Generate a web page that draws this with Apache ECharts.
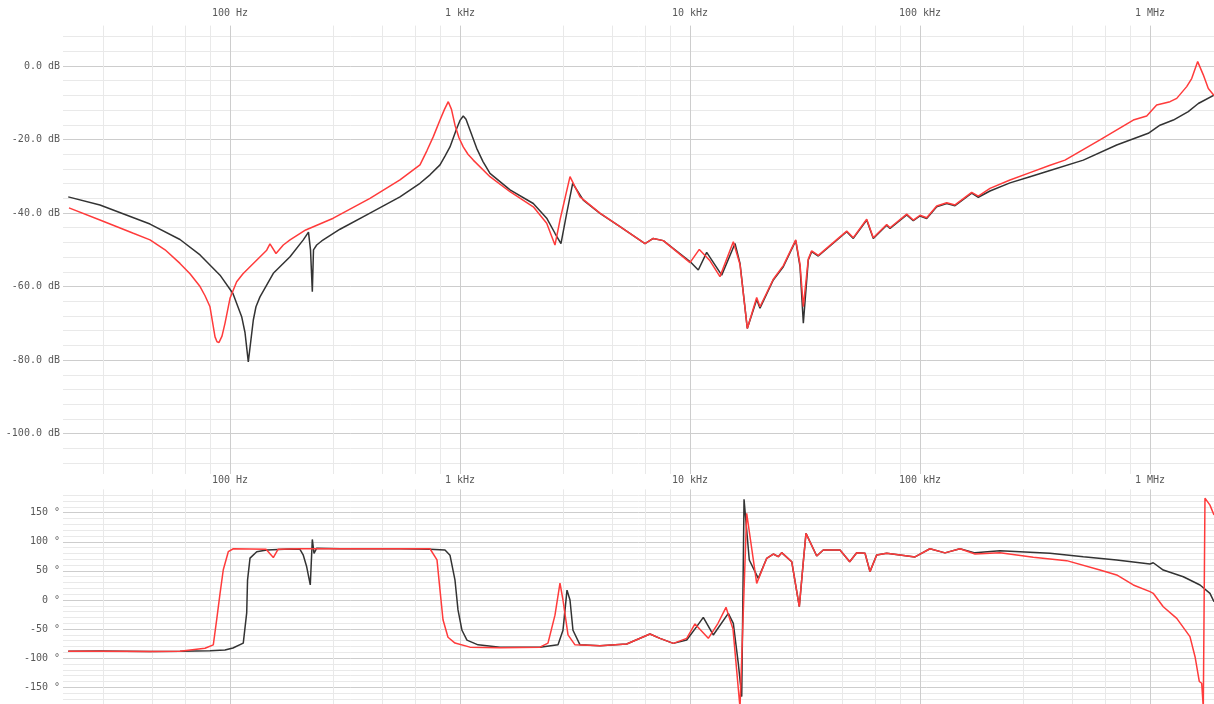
<!DOCTYPE html>
<html><head><meta charset="utf-8">
<script src="https://cdn.jsdelivr.net/npm/echarts@6/dist/echarts.min.js"></script>
<style>html,body{margin:0;padding:0;background:#fff;overflow:hidden}#c{width:1214px;height:704px}</style>
</head><body><div id="c"></div>
<script>
const xTickValues = [100, 1000, 10000, 100000, 1000000];
const xTickNames = ['100 Hz', '1 kHz', '10 kHz', '100 kHz', '1 MHz'];

const magBlackFreq = [19.8, 27.2, 44.9, 60.6, 74.1, 90.5, 103, 112.4, 116.2, 120.1, 126.3, 129.7, 135, 154.3, 182.4, 208.3, 219.4, 223.9, 228, 230.7, 238.2, 250.4, 300.8, 406.1, 548.3, 669.9, 740.5, 818.6, 860.5, 904.6, 967.6, 1000, 1033, 1062, 1105, 1182, 1259, 1350, 1650, 2083, 2382, 2588, 2748, 2910, 3090, 3437, 4062, 4962, 6373, 6924, 7655, 10000, 10866, 11820, 13736, 15691, 16499, 17748, 19498, 20150, 23022, 25450, 28825, 30090, 31100, 32680, 33810, 36130, 48010, 51290, 58660, 62660, 71650, 74070, 87550, 93520, 100000, 106930, 118200, 130650, 142000, 167800, 179300, 201500, 246200, 300800, 367500, 512900, 716400, 983100, 1105000, 1263000, 1467000, 1622000, 1898000];
const magBlackDb = [-35.6, -37.8, -43.0, -47.2, -51.4, -56.9, -61.9, -68.2, -72.5, -80.5, -69.1, -65.5, -62.8, -56.4, -51.9, -47.3, -45.2, -50, -61.4, -50, -48.7, -47.6, -44.4, -40.0, -35.6, -31.9, -29.6, -26.9, -24.5, -22.0, -17.0, -14.8, -13.6, -14.5, -17.4, -22.4, -26.0, -29.2, -33.7, -37.4, -41.4, -45.5, -48.3, -40.1, -31.9, -36.5, -40.1, -43.7, -48.3, -46.9, -47.5, -53.2, -55.5, -50.7, -56.9, -48.3, -53.7, -71.4, -63.5, -65.9, -58.2, -54.6, -47.5, -54.6, -70.0, -52.8, -50.5, -51.7, -45.1, -46.9, -41.9, -46.9, -43.3, -44.2, -40.5, -42.1, -40.8, -41.5, -38.3, -37.4, -38.0, -34.6, -35.7, -34.0, -31.8, -30.1, -28.4, -25.6, -21.5, -18.3, -16.1, -14.7, -12.4, -10.2, -7.9];

const magRedFreq = [19.95, 27.2, 37.98, 44.9, 52.2, 60.6, 67, 74.1, 77.9, 81.85, 86.08, 87.8, 89.6, 92.3, 95.1, 100, 106.9, 113.9, 122.2, 144.4, 149.2, 158.5, 170.5, 182.4, 213.4, 281.3, 406.1, 548.3, 669.9, 718.6, 765.6, 818.6, 856.1, 889.3, 918.3, 951.2, 990, 1033, 1083, 1142, 1350, 1650, 2083, 2382, 2588, 2721, 3008, 3325, 4062, 4962, 6373, 6924, 7655, 10000, 10975, 12220, 13500, 15430, 16499, 17748, 19498, 20150, 23022, 25450, 28825, 30090, 31100, 32680, 33810, 36130, 48010, 51290, 58660, 62660, 71650, 74070, 87550, 93520, 100000, 106930, 118200, 130650, 142000, 167800, 179300, 201500, 246200, 300800, 367500, 426900, 606000, 846000, 967600, 1069000, 1222000, 1307000, 1444000, 1518000, 1612000, 1705000, 1793000, 1898000];
const magRedDb = [-38.6, -41.9, -45.5, -47.3, -50.0, -53.7, -56.5, -60.0, -62.5, -65.5, -73.7, -75.0, -75.2, -73.5, -70.0, -63.2, -58.7, -56.5, -54.6, -50.1, -48.4, -51.0, -48.7, -47.3, -44.6, -41.4, -36.0, -31.0, -26.9, -23.0, -19.2, -14.7, -11.8, -9.7, -11.8, -16.1, -19.5, -22.0, -24.0, -25.6, -30.1, -34.2, -38.3, -42.8, -48.7, -41.9, -30.1, -35.6, -40.0, -43.7, -48.3, -46.9, -47.5, -53.5, -49.9, -53.0, -57.3, -47.8, -54.0, -71.4, -63.0, -65.5, -58.0, -54.3, -47.3, -54.0, -65.5, -52.5, -50.3, -51.5, -44.9, -46.7, -41.7, -46.7, -43.1, -44.0, -40.3, -41.9, -40.6, -41.3, -38.1, -37.2, -37.8, -34.4, -35.4, -33.3, -31.0, -29.0, -27.0, -25.6, -20.1, -14.7, -13.6, -10.6, -9.7, -8.8, -5.6, -3.4, 1.2, -2.4, -6.1, -8.0];

const phaseBlackFreq = [19.8, 27.2, 44.9, 60.6, 81.85, 95.1, 103, 114.2, 118.2, 119.2, 122.2, 130.7, 144.4, 182.4, 201.5, 208.3, 215.5, 223.4, 228, 231.9, 238.2, 300.8, 548.3, 740.5, 860.5, 904.6, 951.2, 980.2, 1020, 1072, 1198, 1492, 2227, 2668, 2804, 2919, 3008, 3099, 3325, 4062, 5307, 6699, 7405, 8461, 9676, 10693, 11424, 12627, 14674, 15430, 16218, 16786, 17177, 18106, 19815, 21557, 23022, 24200, 25040, 27690, 29870, 31100, 31940, 35560, 37980, 44890, 49470, 53070, 57680, 60610, 64810, 71650, 81860, 95120, 110500, 128400, 149200, 173400, 222700, 272200, 367500, 512900, 716400, 1000000, 1033000, 1142000, 1396000, 1650000, 1823000, 1898000];
const phaseBlackDeg = [-88, -87.5, -88.5, -88, -87, -86, -82.5, -74, -22, 34, 72, 83, 86, 87.5, 87, 77, 57, 26, 104, 80, 89, 88, 88, 87, 86, 77, 34, -17, -52, -69, -77, -81, -81, -77, -52, 17, 0, -52, -77, -78.5, -75.6, -58.4, -65.9, -74.5, -68.7, -45.8, -29.8, -60.1, -22.9, -40.1, -108.8, -166, 173, 68.7, 37.2, 71.6, 79, 74.4, 81.3, 65.8, -11.5, 66, 114.5, 75.6, 85.9, 86, 65.8, 81.3, 80.2, 48.7, 77.3, 80.2, 77.3, 74, 88, 81, 88, 81, 84.8, 83, 80.2, 74.4, 68.7, 61.9, 64, 51.5, 40, 25.8, 11.5, -3];

const phaseRedFreq = [19.8, 27.2, 44.9, 60.6, 77.85, 84.6, 87.5, 90.5, 93.5, 98.3, 103.4, 143.4, 146.3, 154.3, 161.7, 201.5, 548.3, 740.5, 794.3, 818.6, 843.6, 886.8, 951.2, 1105, 1492, 2227, 2413, 2588, 2721, 2804, 2949, 3162, 4062, 5307, 6699, 7405, 8461, 9676, 10513, 12012, 13240, 14340, 15380, 16499, 17640, 19498, 21557, 23022, 24200, 25040, 27690, 29870, 31100, 31940, 35560, 37980, 44890, 49470, 53070, 57680, 60610, 64810, 71650, 81860, 95120, 110500, 128400, 149200, 173400, 222700, 311000, 434200, 606000, 716400, 846000, 1000000, 1033000, 1142000, 1307000, 1492000, 1570000, 1638000, 1678000, 1705000, 1734000, 1823000, 1898000];
const phaseRedDeg = [-88, -88, -88.5, -88, -83, -77, -34, 11, 52, 83, 88, 87, 87, 73, 87, 88, 88, 88, 69, 17, -34, -64, -74, -81, -82, -81, -74, -26, 29, 0, -60, -77, -78.5, -75.6, -58.4, -65.9, -74.5, -66, -41.2, -65.8, -40, -12.6, -50, -185, 149, 28.6, 71.6, 79, 74.4, 81.3, 65.8, -11.5, 66, 114.5, 75.6, 85.9, 86, 65.8, 81.3, 80.2, 48.7, 77.3, 80.2, 77.3, 74, 88, 81, 88, 79, 81.3, 73.4, 67.6, 51.5, 43, 25.8, 14.3, 11.5, -11.5, -31.5, -63, -97.4, -140, -143, -185, 175, 163, 146];

const pairs = (xs, ys) => xs.map((x, i) => [x, ys[i]]);
const FONT = 'DejaVu Sans Mono';
const LABEL = '#595959';
const MAJOR = '#cdcdcd';
const MINOR = '#e9e9e9';
const T = 'rgba(0,0,0,0)';

function freqLabel(v) {
  for (let i = 0; i < xTickValues.length; i++) {
    if (Math.abs(v - xTickValues[i]) / xTickValues[i] < 1e-6) return xTickNames[i];
  }
  return '';
}

function xAxis(gridIndex, margin) {
  return {
    type: 'log', logBase: 10, gridIndex, position: 'top',
    min: 18.79, max: 1898000,
    axisLine: { show: false }, axisTick: { show: false },
    axisLabel: { show: true, formatter: freqLabel, color: LABEL, fontFamily: FONT, fontSize: 10, margin, showMinLabel: false, showMaxLabel: false },
    splitLine: { show: true, showMinLine: false, showMaxLine: false, lineStyle: { color: MAJOR, width: 1 } },
    minorTick: { show: false, splitNumber: 5 },
    minorSplitLine: { show: true, lineStyle: { color: MINOR, width: 1 } }
  };
}

const magColors = [];
for (let i = 0; i < 20; i++) {
  const v = -111 + i;
  magColors.push(((v % 20) + 20) % 20 === 0 ? MAJOR : (((v % 4) + 4) % 4 === 0 ? MINOR : T));
}
const phaseColors = [MINOR, MINOR, MINOR, MINOR, MAJOR];

const chart = echarts.init(document.getElementById('c'), null, { renderer: 'canvas' });
chart.setOption({
  animation: false,
  backgroundColor: '#fff',
  grid: [
    { left: 63, width: 1151, top: 25.6, height: 448.4, containLabel: false, outerBoundsMode: 'none' },
    { left: 63, width: 1151, top: 489.4, height: 221.2, containLabel: false, outerBoundsMode: 'none' }
  ],
  xAxis: [xAxis(0, 7), xAxis(1, 4)],
  yAxis: [
    {
      type: 'value', gridIndex: 0, min: -111, max: 11, interval: 1,
      axisLine: { show: false }, axisTick: { show: false },
      axisLabel: { interval: 0, color: LABEL, fontFamily: FONT, fontSize: 10, margin: 3,
        formatter: v => (Math.round(v) % 20 === 0 ? (v === 0 ? '0.0' : v.toFixed(1)) + ' dB' : '') },
      splitLine: { show: true, lineStyle: { color: magColors, width: 1 } }
    },
    {
      type: 'value', gridIndex: 1, min: -190, max: 190, interval: 10,
      axisLine: { show: false }, axisTick: { show: false },
      axisLabel: { interval: 0, color: LABEL, fontFamily: FONT, fontSize: 10, margin: 3,
        formatter: v => (Math.round(v) % 50 === 0 && Math.abs(v) <= 150 ? v + ' \u00b0' : '') },
      splitLine: { show: true, showMaxLine: false, lineStyle: { color: phaseColors, width: 1 } }
    }
  ],
  series: [
    { name: 'mag A', type: 'line', xAxisIndex: 0, yAxisIndex: 0, data: pairs(magBlackFreq, magBlackDb), showSymbol: false, lineStyle: { color: '#333333', width: 1.5 }, z: 2 },
    { name: 'mag B', type: 'line', xAxisIndex: 0, yAxisIndex: 0, data: pairs(magRedFreq, magRedDb), showSymbol: false, lineStyle: { color: '#ff3b3b', width: 1.5 }, z: 3 },
    { name: 'phase A', type: 'line', xAxisIndex: 1, yAxisIndex: 1, data: pairs(phaseBlackFreq, phaseBlackDeg), showSymbol: false, lineStyle: { color: '#333333', width: 1.5 }, z: 2 },
    { name: 'phase B', type: 'line', xAxisIndex: 1, yAxisIndex: 1, data: pairs(phaseRedFreq, phaseRedDeg), showSymbol: false, lineStyle: { color: '#ff3b3b', width: 1.5 }, z: 3 }
  ]
});
</script>
</body></html>
